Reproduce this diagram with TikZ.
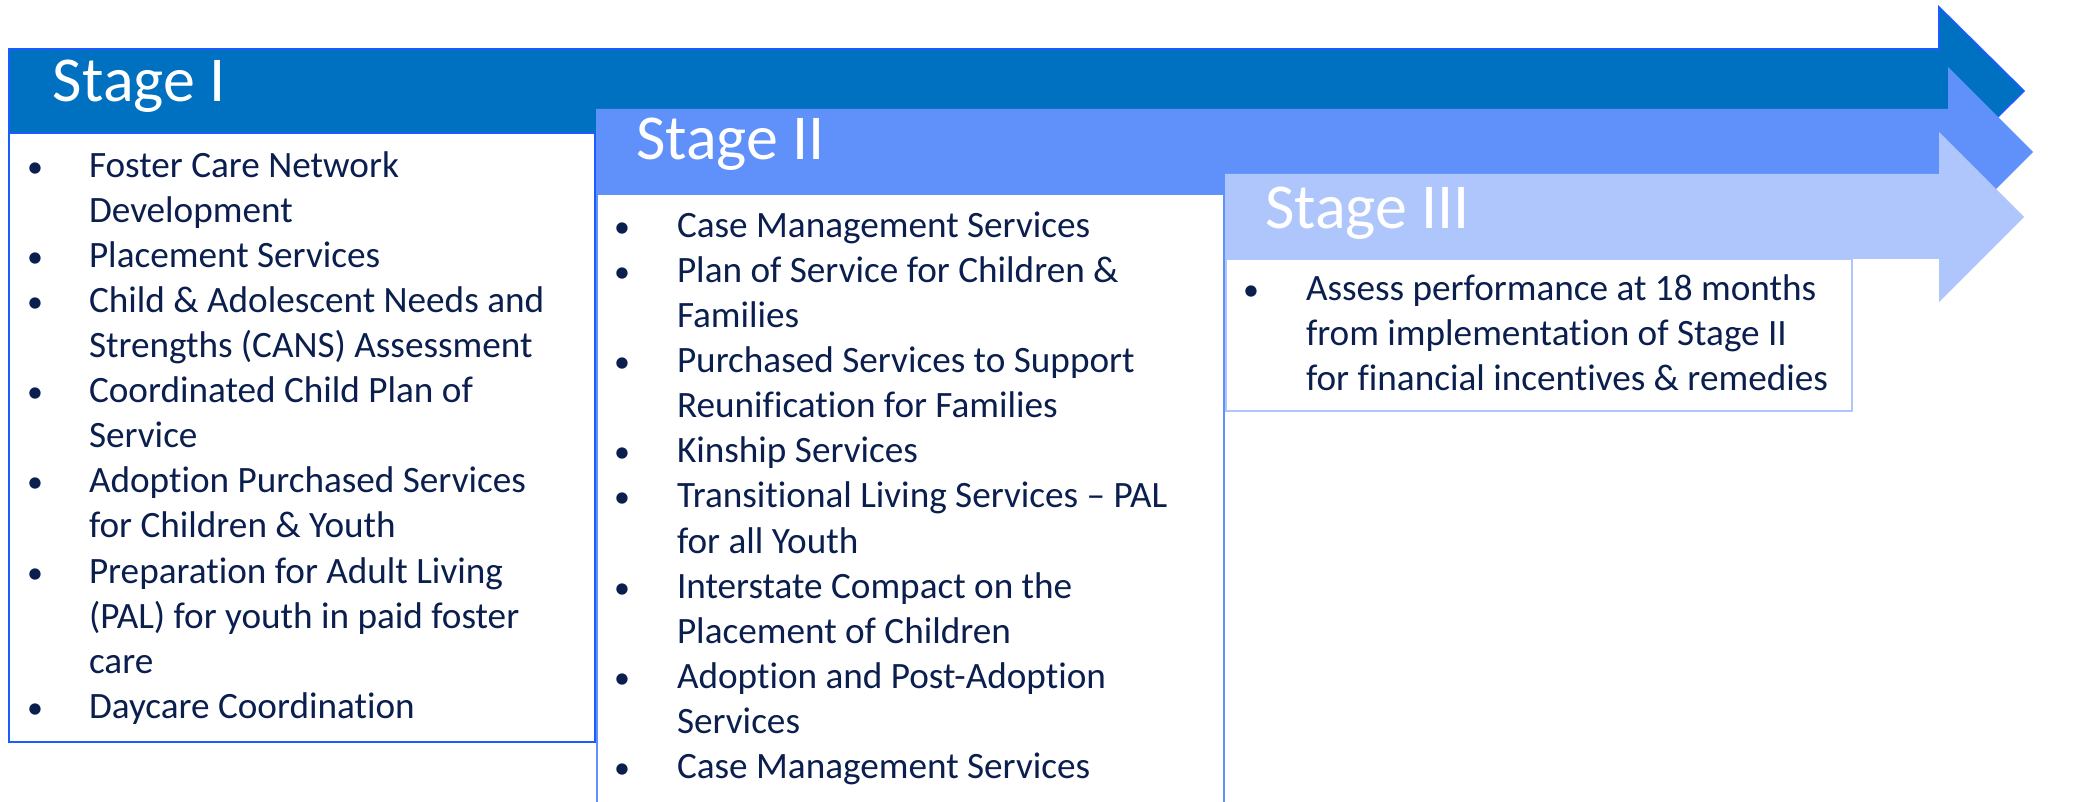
\documentclass[tikz,border=0pt]{standalone}
\usepackage{fontspec}
\setmainfont{Carlito}[Ligatures={NoCommon,NoDiscretionary,NoContextual}]
\definecolor{sIfill}{HTML}{0070C0}
\definecolor{sIline}{HTML}{1C5CFF}
\definecolor{sIIfill}{HTML}{6090F9}
\definecolor{sIIIfill}{HTML}{AFC6FC}
\definecolor{txtc}{HTML}{0B1F4F}
\tikzset{
  head/.style={anchor=base west,inner sep=0pt,outer sep=0pt,text=white,font=\fontsize{32}{38}\selectfont},
  txt/.style={anchor=base west,inner sep=0pt,outer sep=0pt,text=txtc,font=\fontsize{18.6}{22.5}\selectfont},
  bul/.style={anchor=base,inner sep=0pt,outer sep=0pt,text=txtc,font=\fontsize{16}{22.5}\selectfont},
}
\begin{document}
\begin{tikzpicture}[x=0.5pt,y=-0.5pt]
\useasboundingbox (0,0) rectangle (2085,802);
\clip (0,0) rectangle (2085,802);
% Stage I arrow and box
\filldraw[fill=sIfill,draw=sIline,line width=0.8pt,line join=miter]
  (9,49) -- (1939,49) -- (1939,7) -- (2024,91) -- (1939,175) -- (1939,133) -- (9,133) -- cycle;
\filldraw[fill=white,draw=sIline,line width=1pt] (9,133) rectangle (595,742);
% Stage II arrow and box
\fill[sIIfill] (596,109) -- (1948,109) -- (1948,67) -- (2033,152) -- (1948,237) -- (1948,194) -- (596,194) -- cycle;
\filldraw[fill=white,draw=sIIfill,line width=1pt] (597,194) rectangle (1224,830);
% Stage III arrow and box
\fill[sIIIfill] (1225,174) -- (1939,174) -- (1939,132) -- (2024,217) -- (1939,302) -- (1939,259) -- (1225,259) -- cycle;
\filldraw[fill=white,draw=sIIIfill,line width=1pt] (1226,259) rectangle (1852,411);
% headings
\node[head] (h1) at (53,102) {Stage I};
\node[head] (h2) at (636,160) {Stage II};
\node[head] (h3) at (1265,229) {Stage III};
% Stage I list
\node[bul] (b1a) at (35,178) {•};
\node[txt] (t1a) at (89,178) {Foster Care Network};
\node[txt] (t1b) at (89,223) {Development};
\node[bul] (b1c) at (35,268) {•};
\node[txt] (t1c) at (89,268) {Placement Services};
\node[bul] (b1d) at (35,313) {•};
\node[txt] (t1d) at (89,313) {Child \& Adolescent Needs and};
\node[txt] (t1e) at (89,358) {Strengths (CANS) Assessment};
\node[bul] (b1f) at (35,403) {•};
\node[txt] (t1f) at (89,403) {Coordinated Child Plan of};
\node[txt] (t1g) at (89,448) {Service};
\node[bul] (b1h) at (35,493) {•};
\node[txt] (t1h) at (89,493) {Adoption Purchased Services};
\node[txt] (t1i) at (89,538) {for Children \& Youth};
\node[bul] (b1j) at (35,583) {•};
\node[txt] (t1j) at (89,583) {Preparation for Adult Living};
\node[txt] (t1k) at (89,628) {(PAL) for youth in paid foster};
\node[txt] (t1l) at (89,673) {care};
\node[bul] (b1m) at (35,718) {•};
\node[txt] (t1m) at (89,718) {Daycare Coordination};
% Stage II list
\node[bul] (b2a) at (622,238) {•};
\node[txt] (t2a) at (677,238) {Case Management Services};
\node[bul] (b2b) at (622,283) {•};
\node[txt] (t2b) at (677,283) {Plan of Service for Children \&};
\node[txt] (t2c) at (677,328) {Families};
\node[bul] (b2d) at (622,373) {•};
\node[txt] (t2d) at (677,373) {Purchased Services to Support};
\node[txt] (t2e) at (677,418) {Reunification for Families};
\node[bul] (b2f) at (622,463) {•};
\node[txt] (t2f) at (677,463) {Kinship Services};
\node[bul] (b2g) at (622,508) {•};
\node[txt] (t2g) at (677,508) {Transitional Living Services – PAL};
\node[txt] (t2h) at (677,553) {for all Youth};
\node[bul] (b2i) at (622,598) {•};
\node[txt] (t2i) at (677,598) {Interstate Compact on the};
\node[txt] (t2j) at (677,643) {Placement of Children};
\node[bul] (b2k) at (622,688) {•};
\node[txt] (t2k) at (677,688) {Adoption and Post-Adoption};
\node[txt] (t2l) at (677,733) {Services};
\node[bul] (b2m) at (622,778) {•};
\node[txt] (t2m) at (677,778) {Case Management Services};
% Stage III list
\node[bul] (b3a) at (1251,301) {•};
\node[txt] (t3a) at (1306,301) {Assess performance at 18 months};
\node[txt] (t3b) at (1306,346) {from implementation of Stage II};
\node[txt] (t3c) at (1306,391) {for financial incentives \& remedies};
\end{tikzpicture}
\end{document}
